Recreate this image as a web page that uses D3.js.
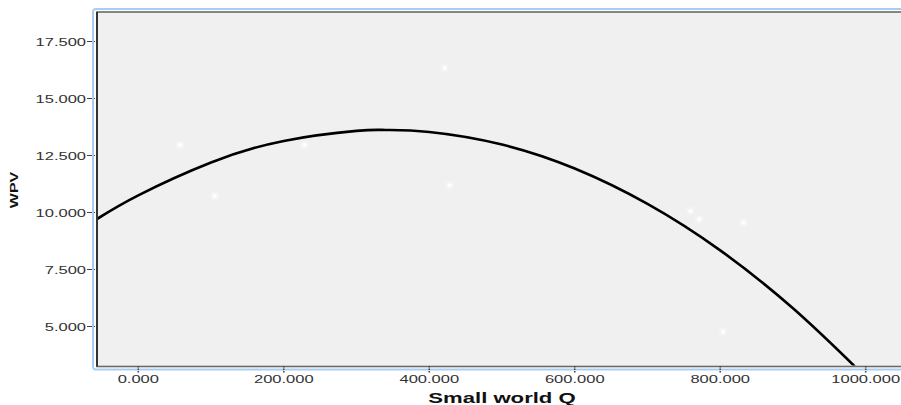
<!DOCTYPE html>
<html>
<head>
<meta charset="utf-8" />
<title>WPV vs Small world Q</title>
<script type="text/javascript" src="https://cdn.jsdelivr.net/npm/d3@7/dist/d3.min.js"></script>
<style>
body { margin:0; background:#fff; }
text { font-family: "Liberation Sans", Arial, sans-serif; }
</style>
</head>
<body>
<div id="chart"></div>
<script>
// scatter points (Small world Q, WPV)
const pointQ   = [57, 105, 229, 421, 428, 759, 771, 832, 804];
const pointWPV = [12.96, 10.72, 12.96, 16.34, 11.2, 10.07, 9.70, 9.55, 4.77];

// fit line
const fitQ   = [-57, 0, 100, 200, 300, 340, 400, 500, 600, 700, 800, 900, 985];
const fitWPV = [9.71, 10.75, 12.19, 13.14, 13.58, 13.62, 13.53, 12.98, 11.93, 10.38, 8.34, 5.80, 3.25];

const xTicks = [0, 200, 400, 600, 800, 1000];
const yTicks = [5, 7.5, 10, 12.5, 15, 17.5];

const width = 901, height = 405;
const plot = {left: 97, top: 12, right: 912, bottom: 366.5};

const svg = d3.select("#chart").append("svg")
	.attr("width", width)
	.attr("height", height);

const x = d3.scaleLinear().domain([0, 1000]).range([138.3, 865.7]);
const y = d3.scaleLinear().domain([5, 17.5]).range([326.5, 41.5]);
const fmt = d3.format(".3f");

// outer blue frame
svg.append("rect")
	.attr("x", 93).attr("y", 9)
	.attr("width", 840).attr("height", 360.5)
	.attr("rx", 3)
	.attr("fill", "#fff")
	.attr("stroke", "#a9cdf0")
	.attr("stroke-width", 2);

// plot background
svg.append("rect")
	.attr("x", plot.left).attr("y", plot.top)
	.attr("width", plot.right - plot.left).attr("height", plot.bottom - plot.top)
	.attr("fill", "#f0f0f0")
	.attr("stroke", "#6a6a6a")
	.attr("stroke-width", 1.6);
svg.append("line")
	.attr("x1", plot.left).attr("x2", plot.left)
	.attr("y1", plot.top).attr("y2", plot.bottom)
	.attr("stroke", "#333").attr("stroke-width", 2);

svg.append("clipPath").attr("id", "clip")
	.append("rect")
	.attr("x", plot.left + 1).attr("y", plot.top + 1)
	.attr("width", plot.right - plot.left - 2).attr("height", plot.bottom - plot.top - 2);

// axes
const yAxis = svg.append("g");
yAxis.selectAll("line").data(yTicks).enter().append("line")
	.attr("x1", 87).attr("x2", 96)
	.attr("y1", d => y(d)).attr("y2", d => y(d))
	.attr("stroke", "#444").attr("stroke-width", 1.2)
	.attr("stroke-dasharray", "5,2,1,2");
yAxis.selectAll("text").data(yTicks).enter().append("text")
	.attr("transform", d => "translate(86," + (y(d) + 4) + ") scale(1.5,1)")
	.attr("text-anchor", "end")
	.attr("font-size", 11)
	.attr("fill", "#333")
	.text(fmt);

const xAxis = svg.append("g");
xAxis.selectAll("line").data(xTicks).enter().append("line")
	.attr("x1", d => x(d)).attr("x2", d => x(d))
	.attr("y1", 366).attr("y2", 373)
	.attr("stroke", "#444").attr("stroke-width", 1.6)
	.attr("stroke-dasharray", "1.5,1");
xAxis.selectAll("text").data(xTicks).enter().append("text")
	.attr("transform", d => "translate(" + x(d) + ",383) scale(1.5,1)")
	.attr("text-anchor", "middle")
	.attr("font-size", 11)
	.attr("fill", "#333")
	.text(fmt);

// axis titles
svg.append("text")
	.attr("transform", "translate(502,403) scale(1.58,1)")
	.attr("text-anchor", "middle")
	.attr("font-size", 14)
	.attr("font-weight", "bold")
	.attr("fill", "#111")
	.text("Small world Q");

svg.append("text")
	.attr("transform", "translate(18,190) rotate(-90) scale(1,0.72)")
	.attr("text-anchor", "middle")
	.attr("font-size", 16)
	.attr("font-weight", "bold")
	.attr("fill", "#111")
	.text("WPV");

// data
const g = svg.append("g").attr("clip-path", "url(#clip)");

g.selectAll("circle.halo").data(pointQ).enter().append("circle")
	.attr("class", "halo")
	.attr("cx", d => x(d)).attr("cy", (d, i) => y(pointWPV[i]))
	.attr("r", 4.5)
	.attr("fill", "#fff").attr("opacity", 0.25);
g.selectAll("circle.pt").data(pointQ).enter().append("circle")
	.attr("class", "pt")
	.attr("cx", d => x(d)).attr("cy", (d, i) => y(pointWPV[i]))
	.attr("r", 2)
	.attr("fill", "#fff");

const line = d3.line()
	.x(d => x(d[0]))
	.y(d => y(d[1]))
	.curve(d3.curveNatural);

g.append("path")
	.datum(d3.zip(fitQ, fitWPV))
	.attr("d", line)
	.attr("fill", "none")
	.attr("stroke", "#000")
	.attr("stroke-width", 2.6);
</script>
</body>
</html>
